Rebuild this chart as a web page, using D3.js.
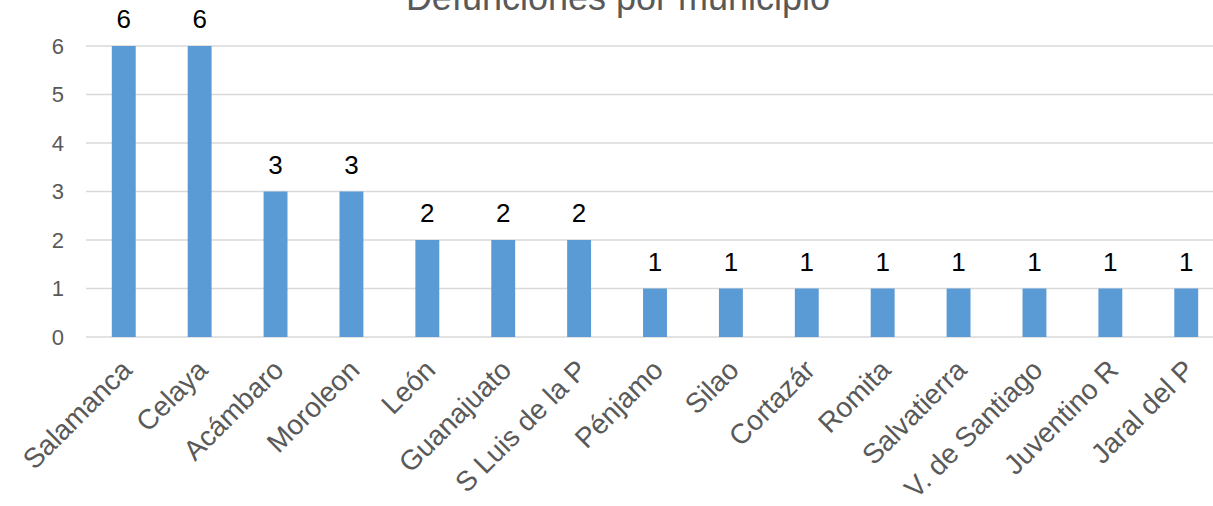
<!DOCTYPE html>
<html>
<head>
<meta charset="utf-8">
<script src="https://cdn.jsdelivr.net/npm/d3@7"></script>
<style>
  body { margin: 0; background: #fff; }
  svg { display: block; font-family: "Liberation Sans", Arial, sans-serif; }
</style>
</head>
<body>
<div id="chart"></div>
<script>
// municipios y defunciones
const municipios = ["Salamanca", "Celaya", "Acámbaro", "Moroleon", "León", "Guanajuato", "S Luis de la P",
  "Pénjamo", "Silao", "Cortazár", "Romita", "Salvatierra", "V. de Santiago", "Juventino R", "Jaral del P"];
const defunciones = [6, 6, 3, 3, 2, 2, 2, 1, 1, 1, 1, 1, 1, 1, 1];
const yTicks = [0, 1, 2, 3, 4, 5, 6];
const titulo = "Defunciones por municipio";

const W = 1213, H = 506;
const mLeft = 86, mRight = 1224, mTop = 46, mBottom = 337;

const svg = d3.select("#chart").append("svg").attr("width", W).attr("height", H);

const x = d3.scaleBand().domain(municipios).range([mLeft, mRight]).paddingInner(0.685).paddingOuter(0.34);
const y = d3.scaleLinear().domain([0, 6]).range([mBottom, mTop]);

// grid
svg.append("g").selectAll("line")
  .data(yTicks).enter().append("line")
    .attr("x1", mLeft).attr("x2", W)
    .attr("y1", d => y(d)).attr("y2", d => y(d))
    .attr("stroke", "#d9d9d9").attr("stroke-width", 1.5);

// y labels
svg.append("g").selectAll("text")
  .data(yTicks).enter().append("text")
    .attr("x", 64).attr("y", d => y(d))
    .attr("text-anchor", "end").attr("dominant-baseline", "central")
    .attr("fill", "#595959").attr("font-size", 22)
    .text(d => d);

// barras
svg.append("g").selectAll("rect")
  .data(defunciones).enter().append("rect")
    .attr("x", (d, i) => x(municipios[i]))
    .attr("width", x.bandwidth())
    .attr("y", d => y(d))
    .attr("height", d => mBottom - y(d))
    .attr("fill", "#5b9bd5");

// valores
svg.append("g").selectAll("text")
  .data(defunciones).enter().append("text")
    .attr("x", (d, i) => x(municipios[i]) + x.bandwidth() / 2)
    .attr("y", d => y(d) - 18)
    .attr("text-anchor", "middle")
    .attr("font-size", 26).attr("fill", "#000")
    .text(d => d);

// etiquetas x
svg.append("g").selectAll("text")
  .data(municipios).enter().append("text")
    .attr("transform", d => "translate(" + (x(d) + x.bandwidth() / 2 + 3) + "," + (mBottom + 28) + ") rotate(-45)")
    .attr("text-anchor", "end").attr("dominant-baseline", "central")
    .attr("font-size", 28).attr("fill", "#595959")
    .text(d => d);

// titulo
svg.append("text")
  .attr("x", 618).attr("y", 10)
  .attr("text-anchor", "middle")
  .attr("font-size", 36).attr("fill", "#595959")
  .text(titulo);
</script>
</body>
</html>
